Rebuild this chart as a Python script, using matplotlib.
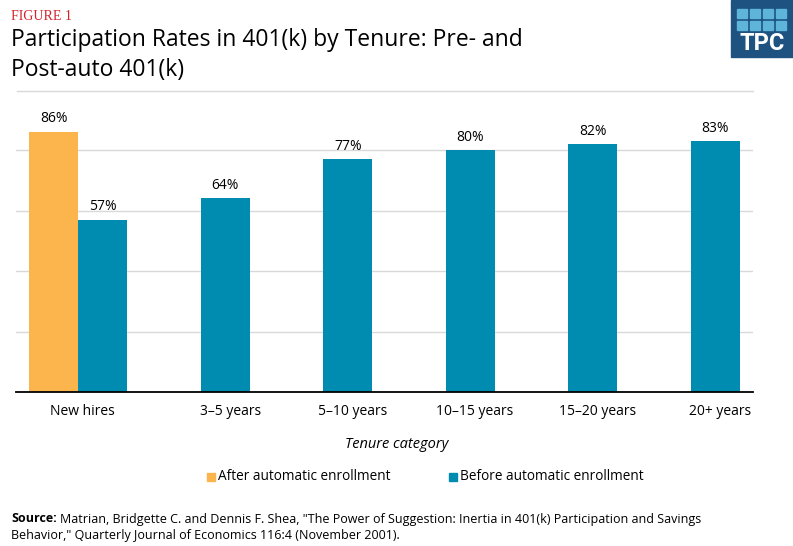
import numpy as np
import matplotlib.pyplot as plt
from matplotlib.patches import Rectangle

categories = ["New hires", "3\u20135 years", "5\u201310 years", "10\u201315 years", "15\u201320 years", "20+ years"]
after_auto = [86]
before_auto = [57, 64, 77, 80, 82, 83]

ORANGE = "#fcb44c"
TEAL = "#008bb0"

plt.rcParams['font.family'] = ['Open Sans', 'DejaVu Sans']

fig = plt.figure(figsize=(7.93, 5.46), dpi=100)
ax = fig.add_axes([16 / 793, 1 - 392 / 546, (753 - 16) / 793, (392 - 92) / 546])

x = np.arange(len(categories))
w = 0.4
ax.bar(x[:1] - w / 2, after_auto, width=w, color=ORANGE, zorder=2)
ax.bar(x + w / 2, before_auto, width=w, color=TEAL, zorder=2)

for xi, v in zip(x[:1] - w / 2, after_auto):
    ax.text(xi, v + 1.8, f"{v}%", ha="center", va="bottom", fontsize=10)
for xi, v in zip(x + w / 2, before_auto):
    ax.text(xi, v + 1.8, f"{v}%", ha="center", va="bottom", fontsize=10)

ax.set_xlim(-0.51, 5.51)
ax.set_ylim(0, 99.2)
ax.set_yticks([20, 40, 60, 80])
ax.yaxis.grid(True, color="#d9d9d9", linewidth=1)
ax.tick_params(axis="y", left=False, labelleft=False)
ax.tick_params(axis="x", bottom=False)
ticks = [0.03] + list(x[1:] + w / 2 + 0.04)
ax.set_xticks(ticks)
ax.set_xticklabels(categories, fontsize=10)
ax.tick_params(axis="x", pad=5)
for s in ["top", "right", "left"]:
    ax.spines[s].set_visible(False)
ax.spines["bottom"].set_linewidth(1.3)
ax.spines["bottom"].set_zorder(3)

fig.text(397 / 793, 1 - 445 / 546, "Tenure category", ha="center",
         va="center", fontsize=10.5, style="italic")

# legend
fig.patches.append(Rectangle((207 / 793, 1 - 481 / 546), 8 / 793, 8 / 546,
                             transform=fig.transFigure, color=ORANGE))
fig.text(218 / 793, 1 - 476 / 546, "After automatic enrollment", fontsize=9.8, va="center")
fig.patches.append(Rectangle((449 / 793, 1 - 481 / 546), 8 / 793, 8 / 546,
                             transform=fig.transFigure, color=TEAL))
fig.text(460 / 793, 1 - 476 / 546, "Before automatic enrollment", fontsize=9.8, va="center")

# title block
fig.text(11 / 793, 1 - 16 / 546, "FIGURE 1", fontsize=10, color="#d2232a",
         family="Liberation Serif", va="center")
fig.text(11 / 793, 1 - 40 / 546, "Participation Rates in 401(k) by Tenure: Pre- and",
         fontsize=16.5, va="center")
fig.text(11 / 793, 1 - 70 / 546, "Post-auto 401(k)", fontsize=16.5, va="center")
fig.add_artist(plt.Line2D([17 / 793, 753 / 793], [1 - 91 / 546, 1 - 91 / 546],
                          color="#d9d9d9", linewidth=1))

# logo
fig.patches.append(Rectangle((731 / 793, 1 - 57 / 546), 62 / 793, 57 / 546,
                             transform=fig.transFigure, color="#1d5281"))
for r in range(2):
    for c in range(4):
        fig.patches.append(Rectangle(((737 + c * 13) / 793, 1 - (18 + r * 12) / 546),
                                     10 / 793, 9 / 546, transform=fig.transFigure,
                                     color="#5fb4d9"))
fig.text(762 / 793, 1 - 44 / 546, "TPC", fontsize=17, weight="bold", color="white",
         ha="center", va="center", family="Roboto")

# source
src = fig.text(11 / 793, 1 - 519 / 546, "Source:", fontsize=9, weight="bold", va="center")
renderer = fig.canvas.get_renderer()
sw = src.get_window_extent(renderer).width
fig.text((11 + sw + 3) / 793, 1 - 519 / 546,
         "Matrian, Bridgette C. and Dennis F. Shea, \"The Power of Suggestion: Inertia in 401(k) Participation and Savings",
         fontsize=9, va="center")
fig.text(11 / 793, 1 - 535 / 546,
         "Behavior,\" Quarterly Journal of Economics 116:4 (November 2001).",
         fontsize=9, va="center")

fig.savefig("out.png", dpi=100)
